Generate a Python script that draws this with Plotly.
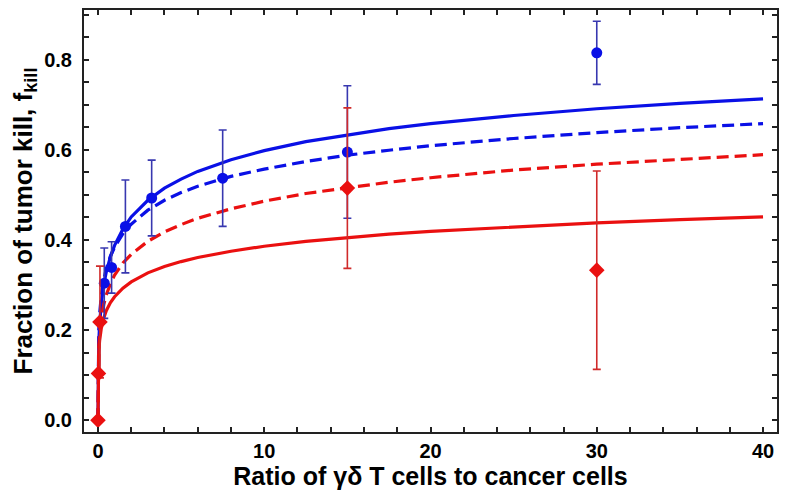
import plotly.graph_objects as go

blue_x = [0.38, 0.82, 1.65, 3.23, 7.5, 15, 30]
blue_y = [0.304, 0.339, 0.430, 0.493, 0.537, 0.595, 0.815]
blue_err = [0.078, 0.057, 0.103, 0.084, 0.107, 0.147, 0.07]

red_x = [0.0, 0.03, 0.12, 15, 30]
red_y = [0.0, 0.104, 0.218, 0.515, 0.333]
red_err = [0.0, 0.0, 0.124, 0.178, 0.22]

# Model curves (values at sample ratios)
curve_x = [0, 0.005, 0.02, 0.05, 0.1, 0.2, 0.35, 0.5, 0.75, 1, 1.5, 2, 3, 4, 5, 6, 8,
           10, 12.5, 15, 17.5, 20, 25, 30, 35, 40]
blue_solid = [0, 0.08, 0.130, 0.173, 0.213, 0.259, 0.301, 0.329, 0.363, 0.388, 0.424, 0.451,
              0.488, 0.515, 0.535, 0.552, 0.578, 0.598, 0.618, 0.633, 0.647, 0.658,
              0.676, 0.691, 0.703, 0.713]
blue_dashed = [0, 0.11, 0.159, 0.200, 0.236, 0.276, 0.312, 0.336, 0.364, 0.384, 0.414, 0.435,
               0.466, 0.488, 0.505, 0.519, 0.541, 0.557, 0.574, 0.588, 0.599, 0.609,
               0.625, 0.638, 0.649, 0.658]
red_dashed = [0, 0.085, 0.128, 0.162, 0.192, 0.226, 0.257, 0.278, 0.303, 0.322, 0.349, 0.368,
              0.397, 0.418, 0.434, 0.448, 0.469, 0.486, 0.503, 0.516, 0.528, 0.538,
              0.555, 0.568, 0.579, 0.589]
red_solid = [0, 0.089, 0.124, 0.153, 0.177, 0.204, 0.227, 0.243, 0.261, 0.274, 0.293, 0.307,
             0.327, 0.341, 0.352, 0.361, 0.375, 0.386, 0.397, 0.405, 0.413, 0.419,
             0.429, 0.438, 0.445, 0.451]

x_tick_vals = [0, 10, 20, 30, 40]
y_tick_vals = [0.0, 0.2, 0.4, 0.6, 0.8]
y_tick_text = ["0.0", "0.2", "0.4", "0.6", "0.8"]

BLUE = "#0a10e6"
RED = "#ea1010"
BLUE_ERR = "#3838b0"
RED_ERR = "#d02a2a"
FONT = "Liberation Sans, Arial, sans-serif"

fig = go.Figure()

fig.add_trace(go.Scatter(x=curve_x, y=blue_solid, mode="lines",
                         line=dict(color=BLUE, width=3.2), showlegend=False))
fig.add_trace(go.Scatter(x=curve_x, y=blue_dashed, mode="lines",
                         line=dict(color=BLUE, width=3.2, dash="12px,6px"), showlegend=False))
fig.add_trace(go.Scatter(x=curve_x, y=red_dashed, mode="lines",
                         line=dict(color=RED, width=3.2, dash="12px,6px"), showlegend=False))
fig.add_trace(go.Scatter(x=curve_x, y=red_solid, mode="lines",
                         line=dict(color=RED, width=3.2), showlegend=False))

fig.add_trace(go.Scatter(x=blue_x, y=blue_y, mode="markers",
                         marker=dict(color=BLUE, size=11, symbol="circle"),
                         error_y=dict(type="data", array=blue_err, visible=True,
                                      color=BLUE_ERR, thickness=1.6, width=4),
                         showlegend=False))
fig.add_trace(go.Scatter(x=red_x, y=red_y, mode="markers",
                         marker=dict(color=RED, size=12, symbol="diamond"),
                         error_y=dict(type="data", array=red_err, visible=True,
                                      color=RED_ERR, thickness=1.6, width=4),
                         showlegend=False))

# The page body has an 8px default margin, so the figure is sized to fit the window.
fig.update_layout(
    width=780, height=494,
    margin=dict(l=76, r=11, t=0, b=70),
    paper_bgcolor="white", plot_bgcolor="white",
    font=dict(family=FONT, color="black"),
)

fig.update_xaxes(
    range=[-0.84, 40.84],
    tickmode="array", tickvals=x_tick_vals, ticktext=[str(v) for v in x_tick_vals],
    ticks="inside", ticklen=5, tickwidth=1.5, tickcolor="#222",
    minor=dict(dtick=2, tick0=0, ticks="inside", ticklen=5, tickwidth=1.5, tickcolor="#222"),
    showline=True, linecolor="#222", linewidth=2, mirror="ticks",
    showgrid=False, zeroline=False,
    tickfont=dict(family=FONT, size=20, color="black", weight="bold"),
    title=dict(text="<b>Ratio of γδ T cells to cancer cells</b>",
               font=dict(family=FONT, size=25, color="black"),
               standoff=6),
)
fig.update_yaxes(
    range=[-0.026, 0.91],
    tickmode="array", tickvals=y_tick_vals, ticktext=y_tick_text,
    ticks="inside", ticklen=5, tickwidth=1.5, tickcolor="#222",
    minor=dict(dtick=0.05, tick0=0, ticks="inside", ticklen=5, tickwidth=1.5, tickcolor="#222"),
    showline=True, linecolor="#222", linewidth=2, mirror="ticks",
    showgrid=False, zeroline=False,
    tickfont=dict(family=FONT, size=20, color="black", weight="bold"),
    ticklabelstandoff=6,
    title=dict(text="<b>Fraction of tumor kill, f<sub>kill</sub></b>",
               font=dict(family=FONT, size=26, color="black"),
               standoff=5),
)

fig.write_html("out.html")
